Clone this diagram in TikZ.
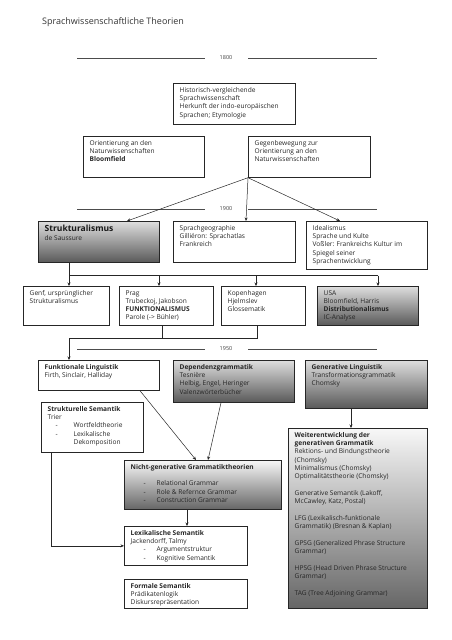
\documentclass[tikz,border=0pt]{standalone}
\usepackage{fontspec}
\setmainfont{Open Sans}
\usetikzlibrary{arrows.meta,calc}
\newcommand{\bxfont}{\fontsize{6.6}{8.3}\selectfont}
\newcommand{\li}[2][13pt]{\hspace*{#1}\makebox[\dimexpr26pt-#1\relax][l]{-}#2}
\newcommand{\tbox}[6][]{%
  \node[box,#1,minimum width=#4,minimum height=#5] (#2) at (#3) {};
  \node[txt] (#2-t) at ([xshift=6.5pt,yshift=-4.1pt]#2.north west) {#6};}

\begin{document}
\begin{tikzpicture}[x=1pt,y=-1pt,
  box/.style={draw=black!85,line width=0.7pt,anchor=north west,inner sep=0pt},
  dark/.style={top color=black!13,bottom color=black!65},
  light/.style={top color=black!3,bottom color=black!60},
  txt/.style={anchor=north west,inner sep=0pt,align=left,font=\bxfont,text=black!85},
  rule/.style={draw=black!70,line width=0.9pt},
  arr/.style={-{Stealth[length=3.5pt,width=3pt]},line width=0.5pt,draw=black!85}]
\useasboundingbox (0,0) rectangle (452,640);
\node[anchor=west,inner sep=0pt,font=\fontsize{9}{10}\selectfont,text=black!80] (title) at (42,22) {Sprachwissenschaftliche Theorien};
\foreach \y/\yr in {58/1800,209/1900,349/1950}{
  \node[font=\fontsize{5.5}{6}\selectfont,text=black!75] (y\yr) at (226,\y) {\yr};
  \draw[rule] (77,\y) -- (205,\y);
  \draw[rule] (248,\y) -- (377,\y);
}

\tbox{hist}{173,83}{122pt}{41pt}{Historisch-vergleichende\\Sprachwissenschaft\\Herkunft der indo-europäischen\\Sprachen; Etymologie}
\tbox{orient}{83,136}{121pt}{41pt}{Orientierung an den\\Naturwissenschaften\\\textbf{Bloomfield}}
\tbox{gegen}{248,136}{122pt}{41pt}{Gegenbewegung zur\\Orientierung an den\\Naturwissenschaften}

\tbox[dark]{struk}{38,221}{121pt}{41pt}{{\fontsize{8.5}{9}\selectfont\bfseries\color{black!90}Strukturalismus}\\de Saussure}
\tbox{geo}{173,221}{122pt}{41pt}{Sprachgeographie\\Gilliéron: Sprachatlas\\Frankreich}
\tbox{ideal}{306,221}{121pt}{48pt}{Idealismus\\Sprache und Kulte\\Voßler: Frankreichs Kultur im\\Spiegel seiner\\Sprachentwicklung}

\tbox{genf}{23,286}{86pt}{39pt}{Genf, ursprünglicher\\Strukturalismus}
\tbox{prag}{119,286}{94pt}{39pt}{Prag\\Trubeckoj, Jakobson\\\textbf{FUNKTIONALISMUS}\\Parole (-> Bühler)}
\tbox{kopen}{221,286}{84pt}{39pt}{Kopenhagen\\Hjelmslev\\Glossematik}
\tbox[dark]{usa}{317,286}{101pt}{39pt}{USA\\Bloomfield, Harris\\\textbf{Distributionalismus}\\IC-Analyse}

\tbox{funkt}{38,360}{121pt}{30pt}{\textbf{Funktionale Linguistik}\\Firth, Sinclair, Halliday}
\tbox[dark]{depend}{173,360}{121pt}{42pt}{\textbf{Dependenzgrammatik}\\Tesnière\\Helbig, Engel, Heringer\\Valenzwörterbücher}
\tbox[dark]{genling}{305,360}{122pt}{48pt}{\textbf{Generative Linguistik}\\Transformationsgrammatik\\Chomsky}

\tbox{strsem}{41,402}{102pt}{50pt}{\textbf{Strukturelle Semantik}\\Trier\\\li[8pt]{Wortfeldtheorie}\\\li[8pt]{Lexikalische}\\\hspace*{26pt}Dekomposition}
\tbox[light]{nichtgen}{124,460}{157pt}{49pt}{\textbf{Nicht-generative Grammatiktheorien}\\[8.3pt]\li{Relational Grammar}\\\li{Role \& Refernce Grammar}\\\li{Construction Grammar}}
\tbox{lexsem}{124,526}{123pt}{39pt}{\textbf{Lexikalische Semantik}\\Jackendorff, Talmy\\\li{Argumentstruktur}\\\li{Kognitive Semantik}}
\tbox{formal}{124,579}{123pt}{29pt}{\textbf{Formale Semantik}\\Prädikatenlogik\\Diskursrepräsentation}
\tbox[light]{weiter}{288,428}{139pt}{180pt}{\textbf{Weiterentwicklung der}\\\textbf{generativen Grammatik}\\Rektions- und Bindungstheorie\\(Chomsky)\\Minimalismus (Chomsky)\\Optimalitätstheorie (Chomsky)\\[8.3pt]Generative Semantik (Lakoff,\\McCawley, Katz, Postal)\\[8.3pt]LFG (Lexikalisch-funktionale\\Grammatik) (Bresnan \& Kaplan)\\[8.3pt]GPSG (Generalized Phrase Structure\\Grammar)\\[8.3pt]HPSG (Head Driven Phrase Structure\\Grammar)\\[8.3pt]TAG (Tree Adjoining Grammar)}

\draw[arr] (gegen.south west) -- ([xshift=89pt]struk.north west);
\draw[arr] (gegen.south west) -- ([xshift=73pt]geo.north west);
\draw[arr] (gegen.south west) -- ([xshift=34pt]ideal.north west);

\coordinate (bus) at ([xshift=31pt,yshift=-13pt]struk.south west);
\coordinate (genf-in) at ([xshift=46pt]genf.north west);
\coordinate (prag-in) at ([xshift=40pt]prag.north west);
\coordinate (kopen-in) at ([xshift=35pt]kopen.north west);
\coordinate (usa-in) at ([xshift=61pt]usa.north west);
\draw[line width=0.5pt,black!85] (struk.south -| bus) -- (bus) -- (bus -| usa-in);
\foreach \n in {genf,prag,kopen,usa}
  \draw[arr] (bus -| \n-in) -- (\n-in);

\coordinate (join) at ([yshift=-13pt]genf.south -| bus);
\coordinate (prag-out) at ([xshift=43pt]prag.south west);
\coordinate (kopen-out) at ([xshift=36pt]kopen.south west);
\draw[line width=0.5pt,black!85] (prag-out) -- (prag-out |- join);
\draw[line width=0.5pt,black!85] (kopen-out) |- (join);
\draw[arr] (join) -- (join |- funkt.north);

\draw[arr] ([xshift=102pt]funkt.south west) -- ([xshift=72pt]nichtgen.north west);
\draw[arr] ([xshift=48pt]depend.south west) -- ([xshift=84pt]nichtgen.north west);
\draw[arr] ([xshift=63pt]nichtgen.south west) -- ([xshift=63pt]lexsem.north west);
\draw[arr] ([xshift=10pt]strsem.south west) |- (lexsem.west);
\coordinate (gen-out) at ([xshift=46pt]genling.south west);
\draw[arr] (gen-out) -- (gen-out |- weiter.north);
\end{tikzpicture}
\end{document}
